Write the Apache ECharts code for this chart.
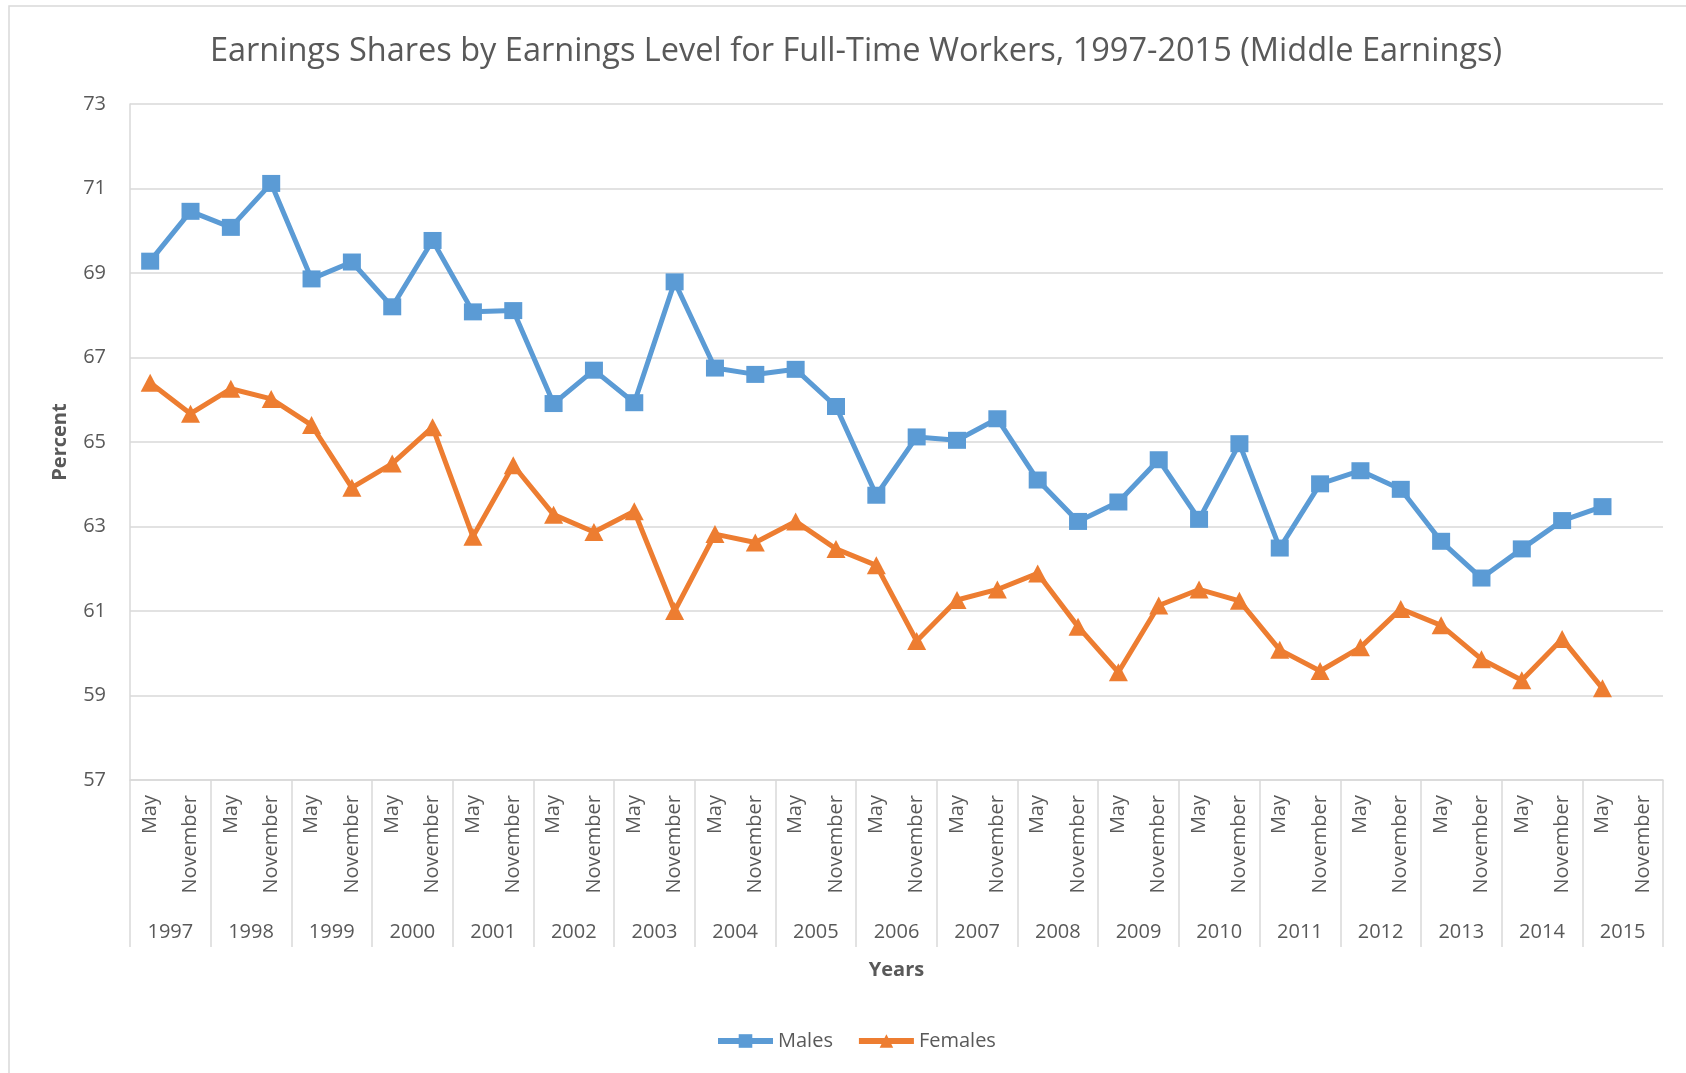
<!DOCTYPE html>
<html style="height: 100%">
    <head>
        <meta charset="utf-8">
    </head>
    <body style="height: 100%; margin: 0; background: #fff">
        <div id="container" style="height:100%"></div>

        <script type="text/javascript" src="https://cdn.jsdelivr.net/npm/echarts@6.0.0/dist/echarts.min.js"></script>

        <script type="text/javascript">
// survey months, two per year
var years = ['1997', '1998', '1999', '2000', '2001', '2002', '2003', '2004', '2005', '2006',
             '2007', '2008', '2009', '2010', '2011', '2012', '2013', '2014', '2015'];
var months = [];
years.forEach(function () {
    months.push('May');
    months.push('November');
});

// percent (no value for November 2015)
var males = [69.28, 70.46, 70.08, 71.12, 68.86, 69.26, 68.20, 69.77, 68.08, 68.11,
             65.91, 66.70, 65.93, 68.79, 66.75, 66.60, 66.72, 65.84, 63.74, 65.12,
             65.04, 65.55, 64.10, 63.12, 63.58, 64.58, 63.17, 64.96, 62.49, 64.01,
             64.32, 63.88, 62.65, 61.78, 62.47, 63.14, 63.47, null];
var females = [66.40, 65.67, 66.26, 66.02, 65.40, 63.92, 64.49, 65.35, 62.76, 64.45,
               63.28, 62.87, 63.36, 61.00, 62.82, 62.62, 63.12, 62.47, 62.08, 60.29,
               61.26, 61.51, 61.89, 60.63, 59.55, 61.13, 61.51, 61.24, 60.08, 59.58,
               60.14, 61.05, 60.66, 59.86, 59.36, 60.34, 59.17, null];

var yTicks = { min: 57, max: 73, step: 2 };

var dom = document.getElementById("container");
var myChart = echarts.init(dom);

var textColor = '#595959';
var lineColor = '#d9d9d9';
var font = '"Open Sans", sans-serif';

var option = {
    animation: false,
    graphic: [{
        type: 'rect',
        shape: { x: 9, y: 6, width: 1720, height: 1120 },
        style: { fill: null, stroke: lineColor, lineWidth: 1.5 }
    }],
    title: {
        text: 'Earnings Shares by Earnings Level for Full-Time Workers, 1997-2015 (Middle Earnings)',
        left: 851,
        textAlign: 'center',
        top: 30,
        textStyle: { fontFamily: font, fontSize: 32.5, fontWeight: 'normal', color: textColor }
    },
    legend: {
        left: 710,
        top: 1026,
        itemWidth: 55,
        itemHeight: 17,
        itemGap: 23,
        lineStyle: { width: 6 },
        textStyle: { fontFamily: font, fontSize: 20, color: textColor }
    },
    grid: { left: 130, right: 23, top: 104, bottom: 293 },
    xAxis: [{
        type: 'category',
        data: months,
        position: 'bottom',
        name: 'Years',
        nameLocation: 'middle',
        nameGap: 180,
        nameTextStyle: { fontFamily: font, fontSize: 20, fontWeight: 'bold', color: textColor },
        axisLine: { lineStyle: { color: lineColor, width: 1.5 } },
        axisTick: { show: false },
        axisLabel: { interval: 0, rotate: 90, margin: 15, fontFamily: font, fontSize: 20, color: textColor }
    }, {
        type: 'category',
        data: years,
        position: 'bottom',
        axisLine: { show: false },
        axisTick: { show: true, interval: 0, length: 167, lineStyle: { color: lineColor, width: 1.5 } },
        axisLabel: { interval: 0, margin: 142, fontFamily: font, fontSize: 20, color: textColor }
    }],
    yAxis: {
        type: 'value',
        min: yTicks.min,
        max: yTicks.max,
        interval: yTicks.step,
        name: 'Percent',
        nameLocation: 'middle',
        nameGap: 60,
        nameTextStyle: { fontFamily: font, fontSize: 20, fontWeight: 'bold', color: textColor },
        axisLine: { show: true, lineStyle: { color: lineColor, width: 1.5 } },
        axisTick: { show: false },
        axisLabel: { margin: 24, fontFamily: font, fontSize: 20, color: textColor },
        splitLine: { lineStyle: { color: lineColor, width: 1.5 } }
    },
    series: [{
        name: 'Males',
        type: 'line',
        data: males,
        symbol: 'rect',
        symbolSize: [18, 17],
        itemStyle: { color: '#5B9BD5' },
        lineStyle: { color: '#5B9BD5', width: 5 }
    }, {
        name: 'Females',
        type: 'line',
        data: females,
        symbol: 'triangle',
        symbolSize: [19, 18],
        itemStyle: { color: '#ED7D31' },
        lineStyle: { color: '#ED7D31', width: 5 }
    }]
};

myChart.setOption(option);
        </script>
    </body>
</html>
